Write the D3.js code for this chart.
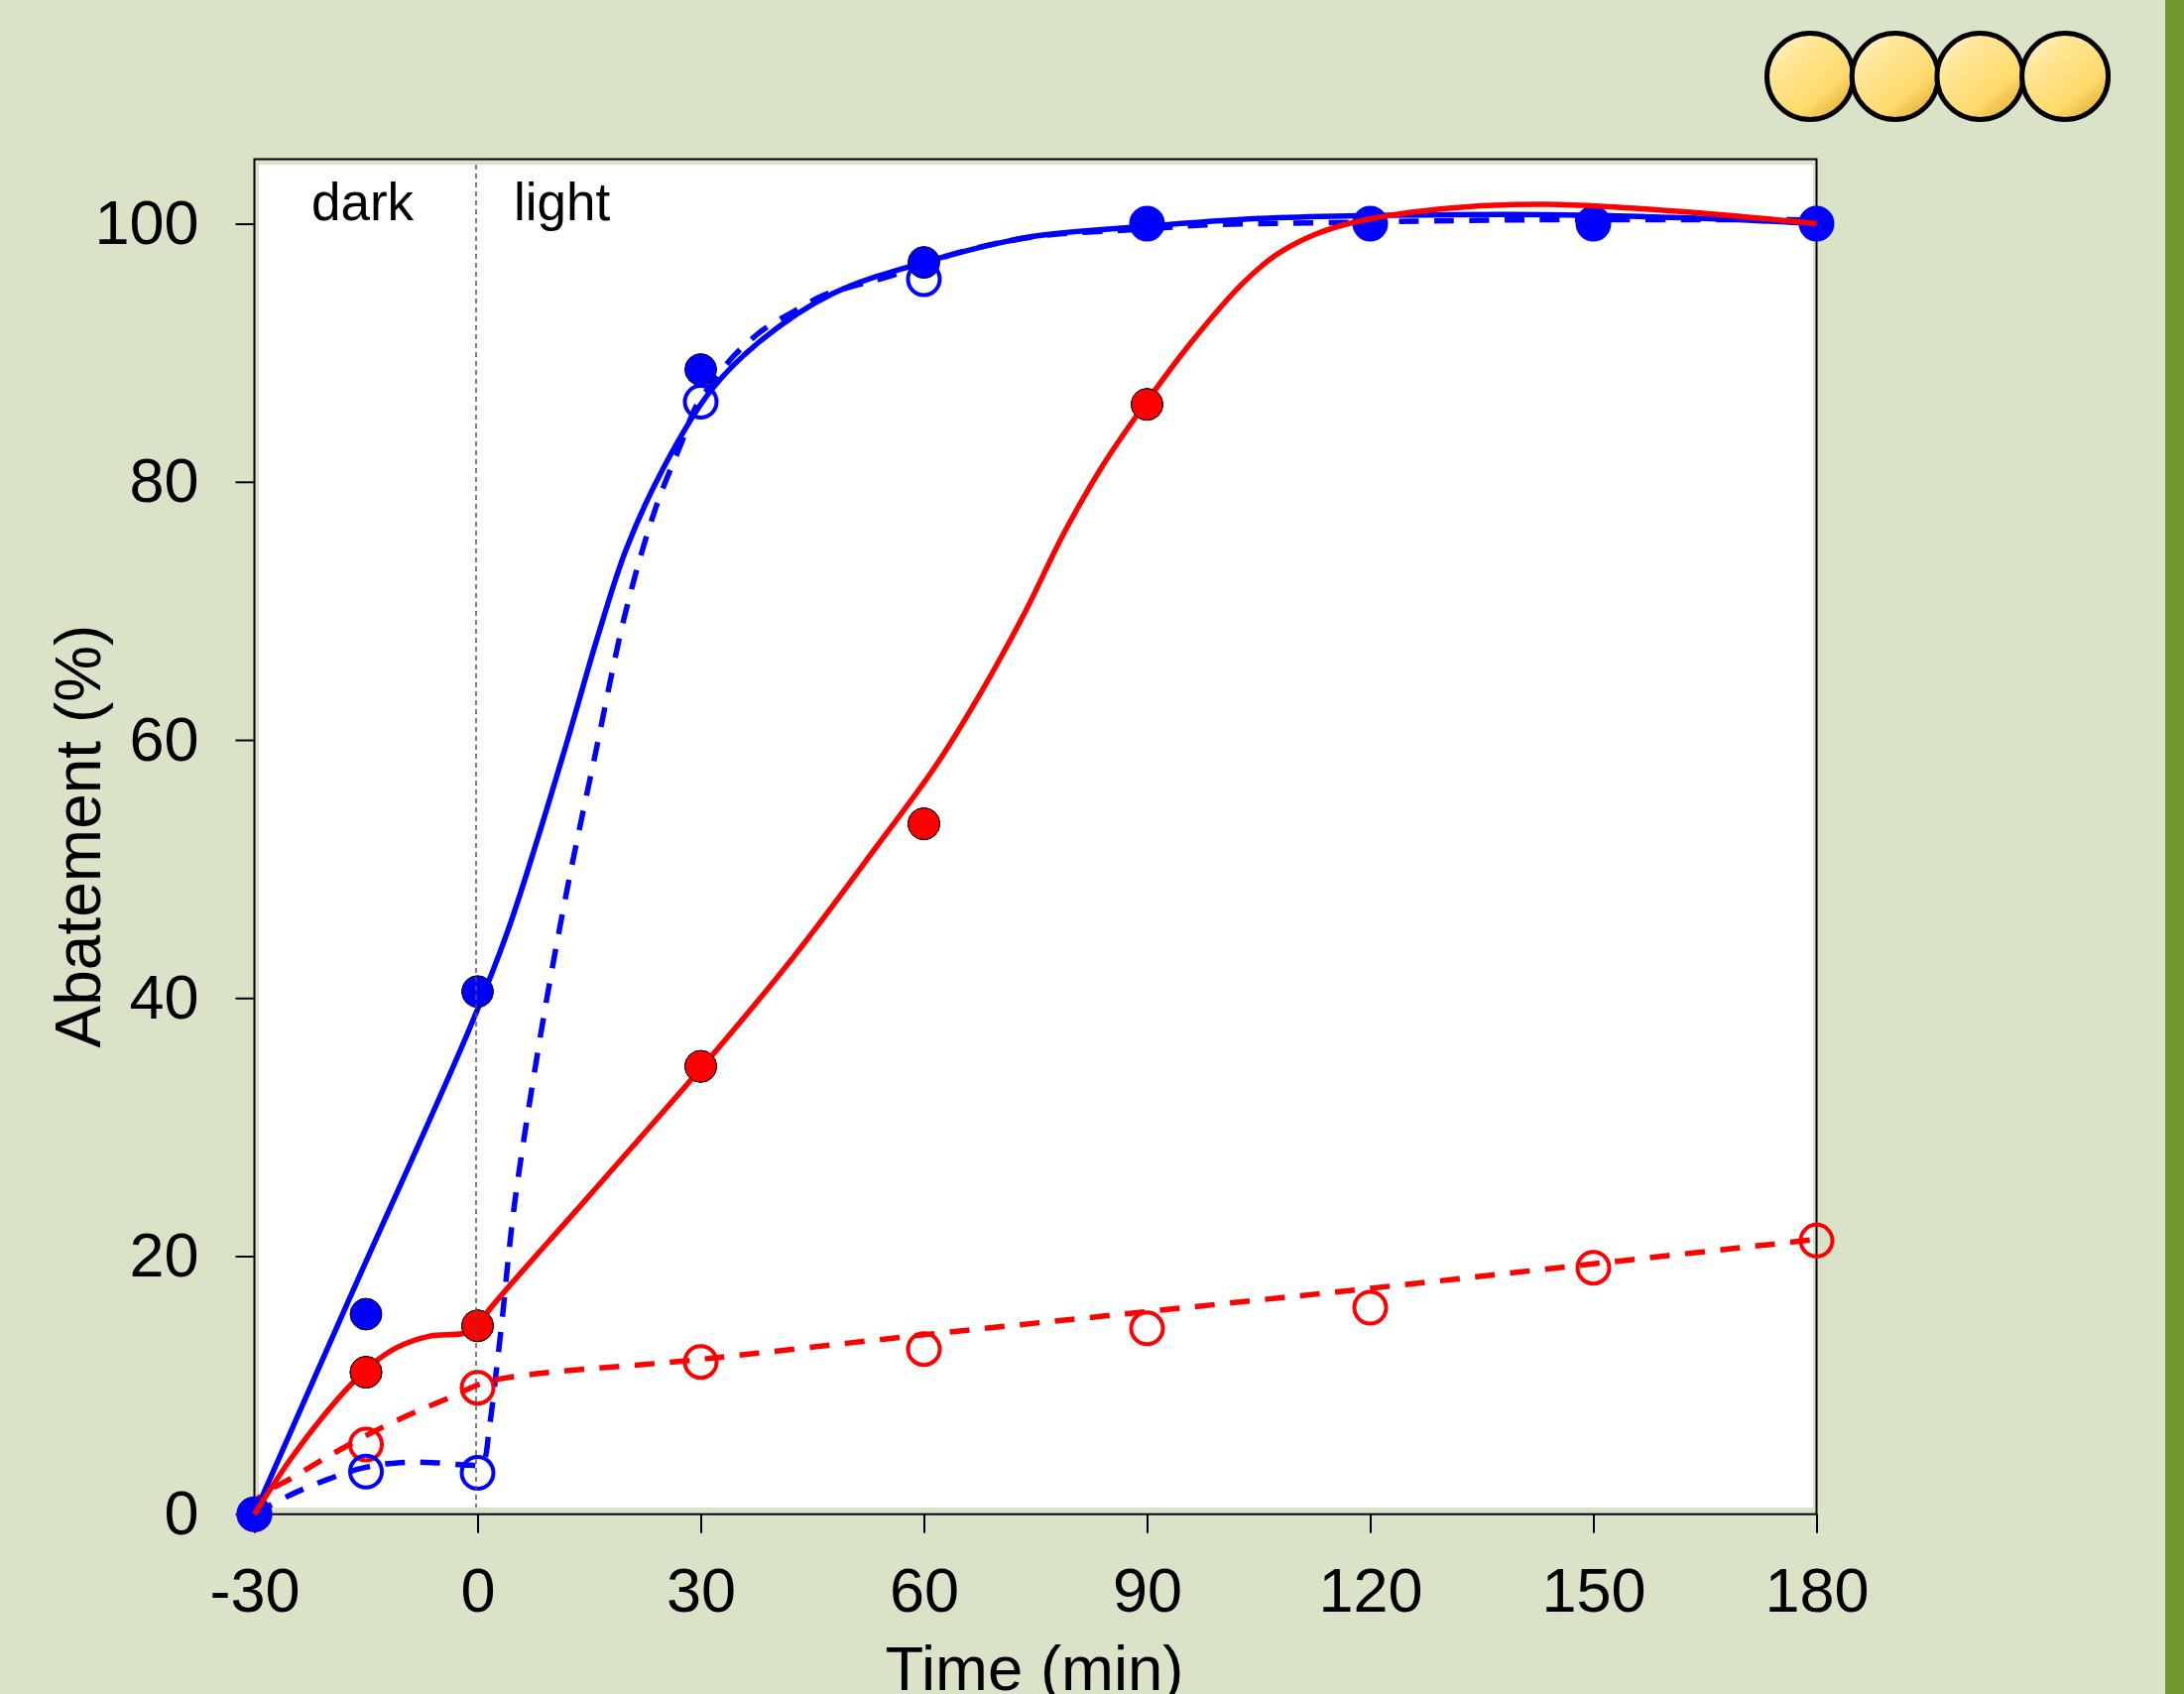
<!DOCTYPE html>
<html>
<head>
<meta charset="utf-8">
<style>
html, body { margin: 0; padding: 0; background: #dae2c8; overflow: hidden; }
text { font-family: "Liberation Sans", Arial, sans-serif; fill: #000; }
</style>
<script src="https://cdn.jsdelivr.net/npm/d3@7/dist/d3.min.js"></script>
</head>
<body>
<svg id="chart" width="2202" height="1708"></svg>
<script>
// marker values
var times = [-30, -15, 0, 30, 60, 90, 120, 150, 180];
var blue_filled = [0, 15.5, 40.5, 88.7, 97, 100, 100, 100, 100];
var red_filled = [0, 11, 14.6, 34.7, 53.5, 86, 100, 100, 100];
var blue_open = [0, 3.3, 3.2, 86.2, 95.7, 100, 100, 100, 100];
var red_open = [0, 5.4, 9.8, 11.8, 12.8, 14.4, 16, 19.1, 21.2];

// fitted curves
var blue_solid_t = [-30, -17.3, -1.1, 4, 8, 12.2, 16.2, 20, 25.1, 31.4, 38, 47.8, 60, 74.5, 90, 105, 117, 143.8, 165, 180];
var blue_solid_v = [0, 16.6, 37.6, 45.1, 52.2, 60.2, 68.1, 74.8, 81.2, 87.1, 90.9, 94.6, 97, 99, 99.8, 100.4, 100.6, 100.7, 100.4, 100];
var blue_dash_t = [-30, -25.5, -20.6, -15.3, -10.4, -6, -1.1, 0.6, 1.6, 2.5, 3.4, 4, 5.1, 8.7, 12, 15.9, 19.9, 23.9, 27.4, 29.5, 32.2, 34.2, 38.2, 42.5, 46.7, 51.4, 55.8, 64.9, 75, 90, 98, 117, 141, 180];
var blue_dash_v = [0, 1.4, 2.6, 3.6, 4, 4, 3.8, 3.9, 6.8, 11, 15.6, 19.1, 24.6, 37.9, 48.3, 59.1, 69.9, 77.9, 83, 86, 88.1, 89.6, 91.7, 93.2, 94.5, 95.3, 96, 97.8, 99, 99.6, 99.9, 100.1, 100.3, 100.3];
var red_solid_t = [-30, -25.1, -20.6, -17.1, -14, -10.9, -6.4, -2, 0, 1.1, 14.9, 31.6, 42.5, 53.6, 61.6, 67.8, 73.6, 78.9, 84.2, 88.7, 95.8, 102.9, 107.4, 112.7, 118.5, 130.5, 143.8, 165, 180];
var red_solid_v = [0, 4.3, 7.7, 10, 11.7, 12.9, 13.8, 14, 14.5, 15.5, 24.6, 35.6, 43.2, 51.7, 58, 63.8, 69.9, 76.1, 81.4, 85.2, 90.7, 95.4, 97.6, 99.2, 100.2, 101.2, 101.5, 100.8, 100];
var red_dash_t = [-30, -29.5, -25, -20.9, -16.6, -12.2, -8, -3.5, 1.6, 30, 60, 90, 120, 150, 180];
var red_dash_v = [0, 1.2, 2.8, 4.2, 5.6, 6.9, 8, 9.1, 10.3, 12, 13.9, 15.7, 17.5, 19.4, 21.3];

var x_ticks = [-30, 0, 30, 60, 90, 120, 150, 180];
var y_ticks = [0, 20, 40, 60, 80, 100];
var badge_count = [0, 1, 2, 3];

var svg = d3.select("#chart");
var blue = "#0000ff", red = "#ff0000";

var x = d3.scaleLinear().domain([-30, 180]).range([256.5, 1831.5]);
var y = d3.scaleLinear().domain([0, 105]).range([1526.7, 160.5]);

// gradient for the badges
var defs = svg.append("defs");
var grad = defs.append("linearGradient").attr("id", "gold")
  .attr("x1", "10%").attr("y1", "5%").attr("x2", "85%").attr("y2", "95%");
grad.append("stop").attr("offset", "0%").attr("stop-color", "#fff4d6");
grad.append("stop").attr("offset", "25%").attr("stop-color", "#ffe698");
grad.append("stop").attr("offset", "72%").attr("stop-color", "#ffda6c");
grad.append("stop").attr("offset", "100%").attr("stop-color", "#dfae33");

// right band
svg.append("rect").attr("x", 2183).attr("y", 0).attr("width", 19).attr("height", 1708).attr("fill", "#739832");

svg.selectAll(".badge").data(badge_count).enter().append("circle")
  .attr("class", "badge")
  .attr("cx", function(d) { return 1825 + d * 85.7; })
  .attr("cy", 77)
  .attr("r", 43.5)
  .attr("fill", "url(#gold)")
  .attr("stroke", "#000")
  .attr("stroke-width", 5);

// plot area
svg.append("rect").attr("x", 261).attr("y", 166).attr("width", 1567).attr("height", 1354).attr("fill", "#fff");
svg.append("rect")
  .attr("x", x(-30)).attr("y", y(105))
  .attr("width", x(180) - x(-30)).attr("height", y(0) - y(105))
  .attr("fill", "none").attr("stroke", "#000").attr("stroke-width", 2);

// axes
var x_axis = d3.axisBottom(x).tickValues(x_ticks).tickSize(19).tickPadding(35).tickFormat(String);
var y_axis = d3.axisLeft(y).tickValues(y_ticks).tickSize(19).tickPadding(37).tickFormat(String);

var gx = svg.append("g").attr("transform", "translate(0," + y(0) + ")").call(x_axis);
var gy = svg.append("g").attr("transform", "translate(" + x(-30) + ",0)").call(y_axis);
gx.select(".domain").remove();
gy.select(".domain").remove();
gx.selectAll("line").attr("stroke-width", 2).attr("stroke", "#000");
gy.selectAll("line").attr("stroke-width", 2).attr("stroke", "#000");
gx.selectAll("text").attr("font-size", 63).attr("font-family", "Liberation Sans");
gy.selectAll("text").attr("font-size", 63).attr("font-family", "Liberation Sans");

svg.append("text").attr("x", 1043).attr("y", 1704).attr("text-anchor", "middle").attr("font-size", 63.5).text("Time (min)");
svg.append("text").attr("transform", "translate(101,843) rotate(-90)").attr("text-anchor", "middle").attr("font-size", 64).text("Abatement (%)");
svg.append("text").attr("x", 314).attr("y", 222).attr("font-size", 53).text("dark");
svg.append("text").attr("x", 518).attr("y", 222).attr("font-size", 53).text("light");

// curves
function drawCurve(ts, vs, color, dashed) {
  var line = d3.line()
    .x(function(d, i) { return x(ts[i]); })
    .y(function(d) { return y(d); })
    .curve(d3.curveCatmullRom.alpha(0.5));
  var path = svg.append("path").attr("d", line(vs))
    .attr("fill", "none").attr("stroke", color).attr("stroke-width", 5.5);
  if (dashed) path.attr("stroke-dasharray", "20 15.5");
}

function drawOpen(vs, color) {
  svg.append("g").selectAll("circle").data(vs).enter().append("circle")
    .attr("cx", function(d, i) { return x(times[i]); })
    .attr("cy", function(d) { return y(d); })
    .attr("r", 16)
    .attr("fill", "none").attr("stroke", color).attr("stroke-width", 4);
}

function drawFilled(vs, color) {
  svg.append("g").selectAll("circle").data(vs).enter().append("circle")
    .attr("cx", function(d, i) { return x(times[i]); })
    .attr("cy", function(d) { return y(d); })
    .attr("r", 16)
    .attr("fill", color).attr("stroke", "#000").attr("stroke-width", 1);
}

drawCurve(blue_dash_t, blue_dash_v, blue, true);
drawCurve(red_dash_t, red_dash_v, red, true);
drawCurve(blue_solid_t, blue_solid_v, blue, false);
drawOpen(red_open, red);
drawFilled(red_filled, red);
drawFilled(blue_filled, blue);
drawOpen(blue_open, blue);
drawCurve(red_solid_t, red_solid_v, red, false);
// red line stops at the dots, redraw those over it except the end ones
svg.append("g").selectAll("circle").data(red_filled.slice(1, 6)).enter().append("circle")
  .attr("cx", function(d, i) { return x(times[i + 1]); })
  .attr("cy", function(d) { return y(d); })
  .attr("r", 16)
  .attr("fill", red).attr("stroke", "#000").attr("stroke-width", 1);

// dark / light divider
svg.append("line")
  .attr("x1", x(0) - 1.5).attr("x2", x(0) - 1.5)
  .attr("y1", 166).attr("y2", 1520)
  .attr("stroke", "#555").attr("stroke-width", 1.5).attr("stroke-dasharray", "5 4");
</script>
</body>
</html>
